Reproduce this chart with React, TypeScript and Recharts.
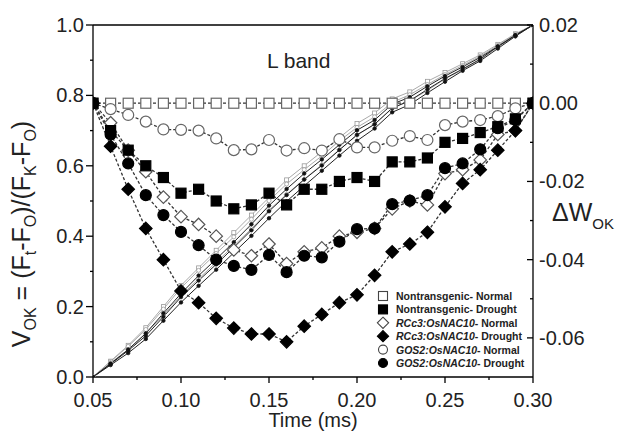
import React from 'react';
import { ComposedChart, Line, XAxis, YAxis, ReferenceLine } from 'recharts';

const time = [0.05, 0.06, 0.07, 0.08, 0.09, 0.10, 0.11, 0.12, 0.13, 0.14, 0.15, 0.16, 0.17, 0.18, 0.19, 0.20, 0.21, 0.22, 0.23, 0.24, 0.25, 0.26, 0.27, 0.28, 0.29, 0.30];

// ΔW_OK series (right axis)
const dwNtNormal = [0, 0, 0, 0, 0, 0, 0, 0, 0, 0, 0, 0, 0, 0, 0, 0, 0, 0, 0, 0, 0, 0, 0, 0, 0, 0];
const dwNtDrought = [0, -0.007, -0.012, -0.016, -0.019, -0.023, -0.022, -0.025, -0.027, -0.026, -0.023, -0.026, -0.022, -0.022, -0.020, -0.019, -0.020, -0.015, -0.015, -0.014, -0.010, -0.009, -0.0075, -0.006, -0.004, 0];
const dwRcNormal = [0, -0.005, -0.012, -0.0175, -0.024, -0.029, -0.031, -0.034, -0.0375, -0.039, -0.036, -0.041, -0.038, -0.037, -0.034, -0.033, -0.032, -0.027, -0.025, -0.026, -0.018, -0.017, -0.0145, -0.008, -0.007, 0];
const dwRcDrought = [0, -0.011, -0.022, -0.032, -0.040, -0.048, -0.051, -0.055, -0.0575, -0.059, -0.059, -0.061, -0.057, -0.054, -0.051, -0.049, -0.044, -0.038, -0.036, -0.033, -0.0265, -0.0205, -0.017, -0.012, -0.007, 0];
const dwGoNormal = [0, -0.0015, -0.003, -0.0047, -0.0067, -0.0068, -0.007, -0.009, -0.012, -0.0118, -0.0094, -0.0121, -0.0115, -0.0121, -0.0092, -0.0113, -0.0113, -0.0096, -0.0084, -0.0094, -0.0056, -0.0047, -0.0043, -0.0033, -0.0013, 0];
const dwGoDrought = [0, -0.008, -0.0154, -0.0235, -0.0286, -0.0329, -0.0363, -0.040, -0.0416, -0.0426, -0.0388, -0.0432, -0.039, -0.0394, -0.0354, -0.0322, -0.032, -0.0258, -0.0249, -0.0235, -0.0166, -0.0154, -0.0118, -0.0064, -0.0043, 0];

// V_OK series (left axis)
const vNtNormal = [0, 0.045, 0.09, 0.14, 0.20, 0.26, 0.31, 0.36, 0.41, 0.46, 0.51, 0.56, 0.60, 0.64, 0.68, 0.72, 0.75, 0.79, 0.81, 0.84, 0.865, 0.89, 0.915, 0.945, 0.975, 1.0];
const vNtDrought = [0, 0.038, 0.078, 0.124, 0.181, 0.237, 0.288, 0.335, 0.383, 0.434, 0.487, 0.534, 0.578, 0.618, 0.660, 0.701, 0.730, 0.775, 0.795, 0.826, 0.855, 0.881, 0.908, 0.939, 0.971, 1.0];
const vRcNormal = [0, 0.040, 0.078, 0.123, 0.176, 0.231, 0.279, 0.326, 0.373, 0.421, 0.474, 0.519, 0.562, 0.603, 0.646, 0.687, 0.718, 0.763, 0.785, 0.814, 0.847, 0.873, 0.901, 0.937, 0.968, 1.0];
const vRcDrought = [0, 0.034, 0.068, 0.108, 0.160, 0.212, 0.259, 0.305, 0.353, 0.401, 0.451, 0.499, 0.543, 0.586, 0.629, 0.671, 0.706, 0.752, 0.774, 0.807, 0.839, 0.870, 0.898, 0.933, 0.968, 1.0];
const vGoNormal = [0, 0.044, 0.087, 0.135, 0.193, 0.253, 0.303, 0.351, 0.398, 0.448, 0.501, 0.548, 0.589, 0.628, 0.671, 0.709, 0.739, 0.780, 0.802, 0.831, 0.859, 0.885, 0.911, 0.942, 0.974, 1.0];
const vGoDrought = [0, 0.037, 0.075, 0.117, 0.171, 0.227, 0.274, 0.320, 0.368, 0.417, 0.471, 0.517, 0.561, 0.601, 0.645, 0.688, 0.718, 0.764, 0.785, 0.817, 0.848, 0.875, 0.903, 0.939, 0.971, 1.0];

const xTicks = [0.05, 0.075, 0.10, 0.125, 0.15, 0.175, 0.20, 0.225, 0.25, 0.275, 0.30];
const xMajor = [0.05, 0.10, 0.15, 0.20, 0.25, 0.30];
const leftTicks = [0, 0.1, 0.2, 0.3, 0.4, 0.5, 0.6, 0.7, 0.8, 0.9, 1.0];
const leftMajor = [0, 0.2, 0.4, 0.6, 0.8, 1.0];
const rightTicks = [-0.06, -0.05, -0.04, -0.03, -0.02, -0.01, 0, 0.01, 0.02];
const rightMajor = [-0.06, -0.04, -0.02, 0, 0.02];

const legendLabels = [
  ['', 'Nontransgenic', '- Normal'],
  ['', 'Nontransgenic', '- Drought'],
  ['i', 'RCc3:OsNAC10', '- Normal'],
  ['i', 'RCc3:OsNAC10', '- Drought'],
  ['i', 'GOS2:OsNAC10', '- Normal'],
  ['i', 'GOS2:OsNAC10', '- Drought'],
];

const data = time.map((t, i) => ({
  t,
  dwNtN: dwNtNormal[i],
  dwNtD: dwNtDrought[i],
  dwRcN: dwRcNormal[i],
  dwRcD: dwRcDrought[i],
  dwGoN: dwGoNormal[i],
  dwGoD: dwGoDrought[i],
  vNtN: vNtNormal[i],
  vNtD: vNtDrought[i],
  vRcN: vRcNormal[i],
  vRcD: vRcDrought[i],
  vGoN: vGoNormal[i],
  vGoD: vGoDrought[i],
}));

const FONT = '"Liberation Sans", Arial, sans-serif';
const near = (a: number, list: number[]) => list.some((m) => Math.abs(m - a) < 1e-6);

type Shape = 'square' | 'circle' | 'diamond';

function Marker({ cx, cy, shape, size, fill, stroke, sw }: any) {
  if (cx == null || cy == null) return null;
  const h = size / 2;
  if (shape === 'square') {
    return <rect x={cx - h} y={cy - h} width={size} height={size} fill={fill} stroke={stroke} strokeWidth={sw} />;
  }
  if (shape === 'circle') {
    return <circle cx={cx} cy={cy} r={h} fill={fill} stroke={stroke} strokeWidth={sw} />;
  }
  const d = h * 1.25;
  return (
    <polygon
      points={`${cx},${cy - d} ${cx + d},${cy} ${cx},${cy + d} ${cx - d},${cy}`}
      fill={fill}
      stroke={stroke}
      strokeWidth={sw}
    />
  );
}

const dotFn = (shape: Shape, size: number, fill: string, stroke: string, sw: number) => (p: any) => (
  <Marker key={`m-${shape}-${size}-${fill}-${p.index}`} cx={p.cx} cy={p.cy} shape={shape} size={size} fill={fill} stroke={stroke} sw={sw} />
);

const XTick = (props: any) => {
  const { x, y, payload } = props;
  const major = near(payload.value, xMajor);
  return (
    <g>
      <line x1={x} y1={y} x2={x} y2={y + (major ? 6 : 3)} stroke="#000" strokeWidth={1.3} />
      {major && (
        <text x={x} y={y + 30} textAnchor="middle" fontSize={20} fontFamily={FONT} fill="#222">
          {payload.value.toFixed(2)}
        </text>
      )}
    </g>
  );
};

const LeftTick = (props: any) => {
  const { x, y, payload } = props;
  const major = near(payload.value, leftMajor);
  return (
    <g>
      <line x1={x} y1={y} x2={x - (major ? 7 : 3)} y2={y} stroke="#000" strokeWidth={1.3} />
      {major && (
        <text x={x - 9} y={y + 7} textAnchor="end" fontSize={20} fontFamily={FONT} fill="#222">
          {payload.value.toFixed(1)}
        </text>
      )}
    </g>
  );
};

const RightTick = (props: any) => {
  const { x, y, payload } = props;
  const major = near(payload.value, rightMajor);
  const v = payload.value;
  const label = Math.abs(v) < 1e-9 ? '0.00' : v.toFixed(2);
  return (
    <g>
      <line x1={x} y1={y} x2={x - (major ? 6 : 3)} y2={y} stroke="#000" strokeWidth={1.3} />
      {major && (
        <text x={x + 6} y={y + 7} textAnchor="start" fontSize={20} fontFamily={FONT} fill="#222">
          {label}
        </text>
      )}
    </g>
  );
};

const dwStyles: { key: string; shape: Shape; fill: string; stroke: string; size: number }[] = [
  { key: 'dwNtN', shape: 'square', fill: '#fff', stroke: '#666', size: 10 },
  { key: 'dwGoN', shape: 'circle', fill: '#fff', stroke: '#666', size: 11 },
  { key: 'dwRcN', shape: 'diamond', fill: '#fff', stroke: '#555', size: 10 },
  { key: 'dwNtD', shape: 'square', fill: '#000', stroke: '#000', size: 10 },
  { key: 'dwGoD', shape: 'circle', fill: '#000', stroke: '#000', size: 11 },
  { key: 'dwRcD', shape: 'diamond', fill: '#000', stroke: '#000', size: 10 },
];

const vStyles: { key: string; shape: Shape; fill: string; stroke: string; line: string }[] = [
  { key: 'vNtN', shape: 'square', fill: '#fff', stroke: '#999', line: '#aaa' },
  { key: 'vGoN', shape: 'circle', fill: '#fff', stroke: '#999', line: '#aaa' },
  { key: 'vRcN', shape: 'diamond', fill: '#fff', stroke: '#999', line: '#aaa' },
  { key: 'vNtD', shape: 'circle', fill: '#111', stroke: '#111', line: '#222' },
  { key: 'vGoD', shape: 'circle', fill: '#111', stroke: '#111', line: '#222' },
  { key: 'vRcD', shape: 'circle', fill: '#111', stroke: '#111', line: '#222' },
];

const legendShapes: { shape: Shape; fill: string; stroke: string }[] = [
  { shape: 'square', fill: '#fff', stroke: '#444' },
  { shape: 'square', fill: '#000', stroke: '#000' },
  { shape: 'diamond', fill: '#fff', stroke: '#444' },
  { shape: 'diamond', fill: '#000', stroke: '#000' },
  { shape: 'circle', fill: '#fff', stroke: '#444' },
  { shape: 'circle', fill: '#000', stroke: '#000' },
];

export default function App() {
  return (
    <div style={{ position: 'absolute', left: 0, top: 0, width: 622, height: 432, background: '#fff' }}>
      <ComposedChart width={622} height={432} data={data} margin={{ top: 25, right: 0, bottom: 0, left: 0 }}>
        <XAxis
          xAxisId="x"
          type="number"
          dataKey="t"
          domain={[0.05, 0.3]}
          ticks={xTicks}
          interval={0}
          tickSize={0}
          tickMargin={0}
          tick={<XTick />}
          height={55}
          axisLine={{ stroke: '#000', strokeWidth: 1.3 }}
          tickLine={false}
          allowDataOverflow
        />
        <YAxis
          yAxisId="L"
          domain={[0, 1]}
          ticks={leftTicks}
          interval={0}
          width={93}
          tickSize={0}
          tickMargin={0}
          tick={<LeftTick />}
          axisLine={{ stroke: '#000', strokeWidth: 1.3 }}
          tickLine={false}
          allowDataOverflow
        />
        <YAxis
          yAxisId="R"
          orientation="right"
          domain={[-0.07, 0.02]}
          ticks={rightTicks}
          interval={0}
          width={89}
          tickSize={0}
          tickMargin={0}
          tick={<RightTick />}
          axisLine={{ stroke: '#000', strokeWidth: 1.3 }}
          tickLine={false}
          allowDataOverflow
        />
        <ReferenceLine xAxisId="x" yAxisId="L" y={1} stroke="#000" strokeWidth={1.3} />
        {vStyles.map((s) => (
          <Line
            key={s.key}
            xAxisId="x"
            yAxisId="L"
            dataKey={s.key}
            type="linear"
            stroke={s.line}
            strokeWidth={1}
            dot={dotFn(s.shape, s.fill === '#fff' ? 4 : 3.5, s.fill, s.stroke, 0.8)}
            activeDot={false}
            isAnimationActive={false}
          />
        ))}
        {dwStyles.map((s) => (
          <Line
            key={s.key}
            xAxisId="x"
            yAxisId="R"
            dataKey={s.key}
            type="linear"
            stroke="#333"
            strokeWidth={1.3}
            strokeDasharray="3 2"
            dot={dotFn(s.shape, s.size, s.fill, s.stroke, 1.2)}
            activeDot={false}
            isAnimationActive={false}
          />
        ))}
      </ComposedChart>
      <svg width={622} height={432} style={{ position: 'absolute', left: 0, top: 0, pointerEvents: 'none' }}>
        <text x={267} y={68} fontSize={21} fontFamily={FONT} fill="#222">L band</text>
        <text x={313} y={427} textAnchor="middle" fontSize={20} fontFamily={FONT} fill="#222">Time (ms)</text>
        <text transform="translate(30,234) rotate(-90)" textAnchor="middle" fontSize={25} fontFamily={FONT} fill="#222">
          V<tspan fontSize={16} dy={6}>OK</tspan>
          <tspan dy={-6}> = (F</tspan>
          <tspan fontSize={16} dy={6}>t</tspan>
          <tspan dy={-6}>-F</tspan>
          <tspan fontSize={16} dy={6}>O</tspan>
          <tspan dy={-6}>)/(F</tspan>
          <tspan fontSize={16} dy={6}>K</tspan>
          <tspan dy={-6}>-F</tspan>
          <tspan fontSize={16} dy={6}>O</tspan>
          <tspan dy={-6}>)</tspan>
        </text>
        <text x={552} y={221} fontSize={25} fontFamily={FONT} fill="#222">
          ΔW<tspan fontSize={15} dy={8}>OK</tspan>
        </text>
        {legendLabels.map((l, i) => {
          const cy = 296 + i * 13.4;
          const s = legendShapes[i];
          return (
            <g key={i}>
              <Marker cx={383} cy={cy} shape={s.shape} size={9} fill={s.fill} stroke={s.stroke} sw={1.1} />
              <text x={396} y={cy + 4} fontSize={10.5} fontWeight="bold" fontFamily={FONT} fill="#222">
                <tspan fontStyle={l[0] === 'i' ? 'italic' : 'normal'}>{l[1]}</tspan>
                <tspan>{l[2]}</tspan>
              </text>
            </g>
          );
        })}
      </svg>
    </div>
  );
}
